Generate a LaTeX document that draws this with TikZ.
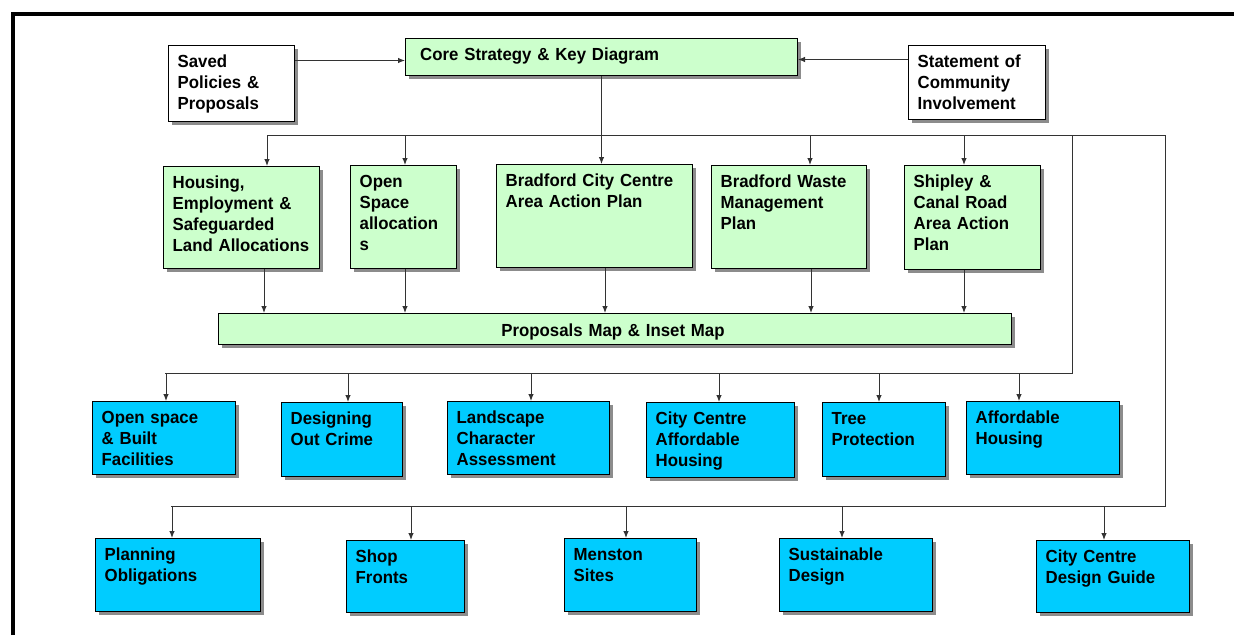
\documentclass[tikz,border=0pt]{standalone}
\usepackage{fontspec}
\newfontfamily\chartfont{Liberation Sans}[FakeStretch=0.96]
\usetikzlibrary{arrows.meta, shadows}
\definecolor{planGreen}{HTML}{CCFFCC}
\definecolor{spdBlue}{HTML}{00CCFF}

\begin{document}
\begin{tikzpicture}[x=1pt, y=-1pt,
  box/.style={draw=black, line width=1pt, anchor=north west, inner sep=0pt,
    drop shadow={shadow xshift=3pt, shadow yshift=-3pt, fill=black!45, opacity=1}},
  gbox/.style={box, fill=planGreen},
  bbox/.style={box, fill=spdBlue},
  wbox/.style={box, fill=white},
  txt/.style={anchor=base west, inner sep=0pt, text width=300pt, align=left,
    font=\chartfont\bfseries\fontsize{17.5}{21}\selectfont, xshift=9.5pt, yshift=-22pt},
  link/.style={draw=black!80, line width=1pt},
  arr/.style={link, -{Latex[length=7pt,width=5.5pt]}}]
\useasboundingbox (0,0) rectangle (1234,635);
% Page frame (cut off at right and bottom)
\draw[line width=3.6pt] (13,635) -- (13,14) -- (1234,14);
% Top row
\node[wbox, minimum width=126pt, minimum height=76pt] (saved) at (168,45) {};
\node[txt] (saved-t) at (saved.north west) {Saved\\Policies \&\\Proposals};
\node[gbox, minimum width=392pt, minimum height=37pt] (core) at (405,38) {};
\node[txt, xshift=5.5pt] (core-t) at (core.north west) {Core Strategy \& Key Diagram};
\node[wbox, minimum width=137pt, minimum height=74pt] (statement) at (908,45) {};
\node[txt] (statement-t) at (statement.north west) {Statement of\\Community\\Involvement};
% Development plan documents
\node[gbox, minimum width=156pt, minimum height=102pt] (housing) at (163,166) {};
\node[txt] (housing-t) at (housing.north west) {Housing,\\Employment \&\\Safeguarded\\Land Allocations};
\node[gbox, minimum width=106pt, minimum height=103pt] (openspace) at (350,165) {};
\node[txt] (openspace-t) at (openspace.north west) {Open\\Space\\allocation\\s};
\node[gbox, minimum width=196pt, minimum height=103pt] (bcc) at (496,164) {};
\node[txt] (bcc-t) at (bcc.north west) {Bradford City Centre\\Area Action Plan};
\node[gbox, minimum width=155pt, minimum height=103pt] (waste) at (711,165) {};
\node[txt] (waste-t) at (waste.north west) {Bradford Waste\\Management\\Plan};
\node[gbox, minimum width=136pt, minimum height=104pt] (shipley) at (904,165) {};
\node[txt] (shipley-t) at (shipley.north west) {Shipley \&\\Canal Road\\Area Action\\Plan};
\node[gbox, minimum width=793pt, minimum height=31pt] (props) at (218,313) {};
\node[txt, anchor=base, xshift=-11.5pt, yshift=-1pt, align=center] (props-t) at (props.north) {Proposals Map \& Inset Map};
% Supplementary documents, first row
\node[bbox, minimum width=143pt, minimum height=73pt] (osbf) at (92,401) {};
\node[txt] (osbf-t) at (osbf.north west) {Open space\\\& Built\\Facilities};
\node[bbox, minimum width=121pt, minimum height=74pt] (doc) at (281,402) {};
\node[txt] (doc-t) at (doc.north west) {Designing\\Out Crime};
\node[bbox, minimum width=162pt, minimum height=73pt] (lca) at (447,401) {};
\node[txt] (lca-t) at (lca.north west) {Landscape\\Character\\Assessment};
\node[bbox, minimum width=148pt, minimum height=75pt] (ccah) at (646,402) {};
\node[txt] (ccah-t) at (ccah.north west) {City Centre\\Affordable\\Housing};
\node[bbox, minimum width=123pt, minimum height=74pt] (tree) at (822,402) {};
\node[txt] (tree-t) at (tree.north west) {Tree\\Protection};
\node[bbox, minimum width=153pt, minimum height=73pt] (ah) at (966,401) {};
\node[txt] (ah-t) at (ah.north west) {Affordable\\Housing};
% Supplementary documents, second row
\node[bbox, minimum width=165pt, minimum height=73pt] (po) at (95,538) {};
\node[txt] (po-t) at (po.north west) {Planning\\Obligations};
\node[bbox, minimum width=118pt, minimum height=72pt] (sf) at (346,540) {};
\node[txt] (sf-t) at (sf.north west) {Shop\\Fronts};
\node[bbox, minimum width=132pt, minimum height=73pt] (ms) at (564,538) {};
\node[txt] (ms-t) at (ms.north west) {Menston\\Sites};
\node[bbox, minimum width=153pt, minimum height=73pt] (sd) at (779,538) {};
\node[txt] (sd-t) at (sd.north west) {Sustainable\\Design};
\node[bbox, minimum width=153pt, minimum height=72pt] (ccdg) at (1036,540) {};
\node[txt] (ccdg-t) at (ccdg.north west) {City Centre\\Design Guide};
% Inputs to the core strategy
\coordinate (inL) at ([yshift=-3.5pt]core.west);
\coordinate (inR) at ([yshift=-2.5pt]core.east);
\draw[arr] (saved.east |- inL) -- (inL);
\draw[arr] (statement.west |- inR) -- (inR);
\draw[arr] (core.south) -- (core.south |- bcc.north);
% Distribution lines
\draw[link] (267,135) -- (1165,135) -- (1165,506) -- (171,506);
\draw[link] (1072,135) -- (1072,373) -- (165,373);
% Drops from the lines to the boxes
\foreach \x/\n in {267/housing, 405/openspace, 810/waste, 964/shipley}
  \draw[arr] (\x,135) coordinate (d-\n) -- (d-\n |- \n.north);
\foreach \x/\n in {264/housing, 405/openspace, 605/bcc, 811/waste, 964/shipley}
  \draw[arr] (\x,0) coordinate (u-\n) (u-\n |- \n.south) -- (u-\n |- props.north);
\foreach \x/\n in {166/osbf, 348/doc, 531/lca, 719/ccah, 879/tree, 1019/ah}
  \draw[arr] (\x,373) coordinate (d-\n) -- (d-\n |- \n.north);
\foreach \x/\n in {172/po, 411/sf, 626/ms, 842/sd, 1104/ccdg}
  \draw[arr] (\x,506) coordinate (d-\n) -- (d-\n |- \n.north);
\end{tikzpicture}
\end{document}
